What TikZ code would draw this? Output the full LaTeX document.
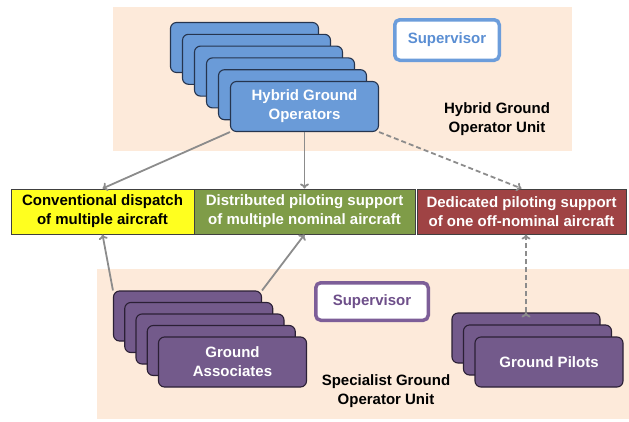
\documentclass[tikz,border=0pt]{standalone}
\usepackage{fontspec}
\setmainfont{Liberation Sans}
\usetikzlibrary{arrows.meta,shadows}

\definecolor{unitbg}{HTML}{FDEADA}
\definecolor{hybblue}{HTML}{6A9BD8}
\definecolor{hybline}{HTML}{26354F}
\definecolor{specpurple}{HTML}{735A8B}
\definecolor{specline}{HTML}{2B2035}
\definecolor{convyellow}{HTML}{FFFF1F}
\definecolor{distgreen}{HTML}{7F9C48}
\definecolor{dedred}{HTML}{9F4344}
\definecolor{suptopline}{HTML}{6C9DDB}
\definecolor{suptoptext}{HTML}{5A8ED3}
\definecolor{supbotline}{HTML}{7D5E98}
\definecolor{supbottext}{HTML}{6E4F8A}
\definecolor{linkgray}{HTML}{8C8C8C}

\begin{document}
\begin{tikzpicture}[x=1pt,y=-1pt,
  boxfont/.style={font=\bfseries\fontsize{15}{19}\selectfont},
  hyb node/.style={rectangle,rounded corners=6pt,draw=hybline,line width=1.1pt,fill=hybblue,
    text=white,boxfont,align=center,minimum width=148pt,minimum height=50pt,inner sep=0pt},
  spec node/.style={hyb node,draw=specline,fill=specpurple},
  task node/.style={rectangle,draw=black!75,line width=1pt,boxfont,align=center,
    minimum height=45pt,inner sep=0pt,drop shadow={opacity=0.3,shadow xshift=0pt,shadow yshift=-1.2pt}},
  sup node/.style={rectangle,rounded corners=5pt,fill=white,line width=3.5pt,boxfont,
    drop shadow={opacity=0.25,shadow xshift=0.8pt,shadow yshift=-1.2pt}},
  unit label/.style={boxfont,align=center},
  link/.style={draw=linkgray,line width=1.8pt,-{To[length=5pt,width=9pt]}}]

  \useasboundingbox (0,0) rectangle (629,421);

  % unit backgrounds
  \fill[unitbg] (113,7) rectangle (572,151);
  \fill[unitbg] (97,269) rectangle (629,419);

  % hybrid ground operator unit
  \node[hyb node] (h5) at (244.5,47.5) {};
  \node[hyb node] (h4) at (256.5,59.3) {};
  \node[hyb node] (h3) at (268.5,71.1) {};
  \node[hyb node] (h2) at (280.5,82.9) {};
  \node[hyb node] (h1) at (292.5,94.7) {};
  \node[hyb node] (h0) at (304.5,106.5) {Hybrid Ground\\Operators};

  \node[sup node,draw=suptopline,text=suptoptext,minimum width=104.5pt,minimum height=40.5pt] (suptop) at (447,40) {Supervisor};
  \node[unit label] (hybunit) at (497,119) {Hybrid Ground\\Operator Unit};

  % tasks
  \node[task node,fill=convyellow,text=black,minimum width=183pt] (conv) at (102.5,211.5) {Conventional dispatch\\of multiple aircraft};
  \node[task node,fill=distgreen,text=white,minimum width=221pt] (dist) at (304.5,211.5) {Distributed piloting support\\of multiple nominal aircraft};
  \node[task node,fill=dedred,text=white,minimum width=209pt] (ded) at (521.5,211.5) {Dedicated piloting support\\of one off-nominal aircraft};

  % specialist ground operator unit
  \node[spec node] (g4) at (187.5,316) {};
  \node[spec node] (g3) at (198.75,327.5) {};
  \node[spec node] (g2) at (210,339) {};
  \node[spec node] (g1) at (221.25,350.5) {};
  \node[spec node] (g0) at (232.5,362) {Ground\\Associates};

  \node[spec node] (p2) at (526,338) {};
  \node[spec node] (p1) at (537.5,350) {};
  \node[spec node] (p0) at (549,362) {Ground Pilots};

  \node[sup node,draw=supbotline,text=supbottext,minimum width=112.5pt,minimum height=37.5pt] (supbot) at (372,301.5) {Supervisor};
  \node[unit label] (specunit) at (386,391) {Specialist Ground\\Operator Unit};

  \path[link]
    (h0.south west) edge (conv.north)
    (h0.south) edge (dist.north)
    (h0.south east) edge[dashed,dash pattern=on 5pt off 3pt] (ded.north)
    (g4.north west) edge (conv.south)
    (g4.north east) edge (dist.south)
    (p2.north) edge[dashed,dash pattern=on 5pt off 3pt] (p2.north |- ded.south);
\end{tikzpicture}
\end{document}
